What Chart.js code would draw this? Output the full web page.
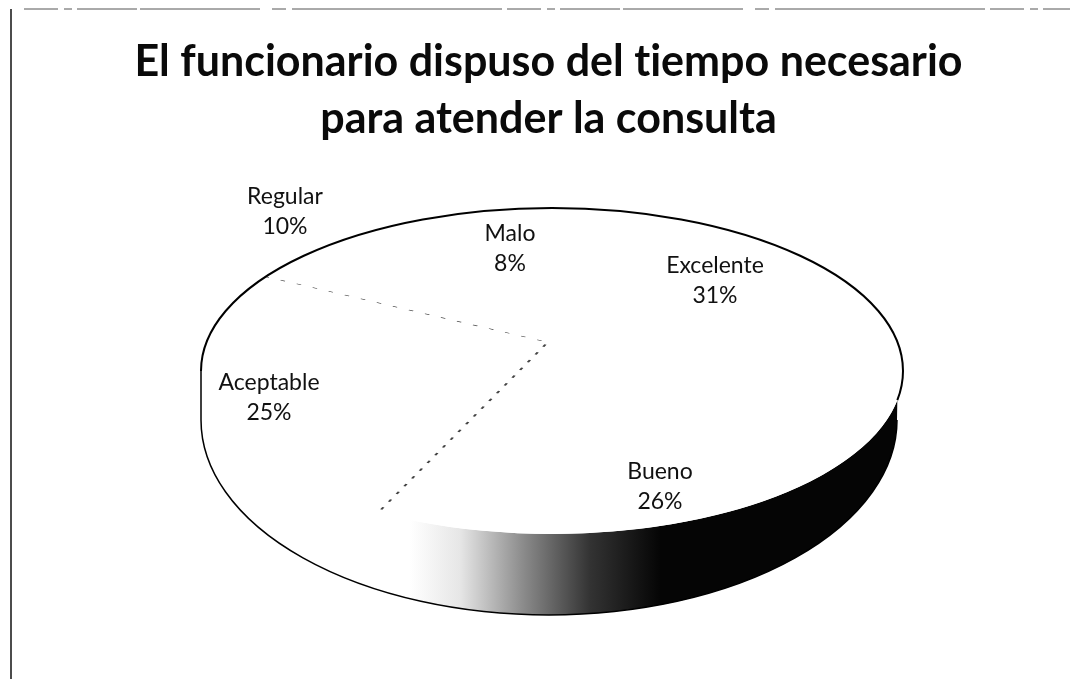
<!DOCTYPE html>
<html>
<head>
<meta charset="utf-8">
<script src="https://cdn.jsdelivr.net/npm/chart.js@4"></script>
<style>
  body { margin: 0; background: #fff; }
  canvas { display: block; }
</style>
</head>
<body>
<canvas id="myChart" width="1077" height="679"></canvas>
<script>
const titleLines = ['El funcionario dispuso del tiempo necesario', 'para atender la consulta'];
const categories = ['Excelente', 'Bueno', 'Aceptable', 'Regular', 'Malo'];
const shares = [31, 26, 25, 10, 8];

// label centres, same order as categories
const labelAnchors = [[715, 281], [660, 487], [269, 398], [285, 212], [510, 249]];

// top face and bottom rim of the disc, plus the perspective-shifted slice centre
const face = { x: 552, y: 371, rx: 351, ry: 163, end: 0.18 };
const rim = { x: 549, y: 420, rx: 348, ry: 195 };
const sliceFan = { x: 548, y: 342, rx: 420, ry: 203 };

const tiltedPie = {
    id: 'tiltedPie',
    beforeDraw(chart) {
        // scanned page edge
        const ctx = chart.ctx;
        ctx.save();
        ctx.fillStyle = '#fff';
        ctx.fillRect(0, 0, chart.width, chart.height);
        ctx.strokeStyle = '#111';
        ctx.lineWidth = 1.5;
        ctx.beginPath();
        ctx.moveTo(11, 9);
        ctx.lineTo(11, 679);
        ctx.stroke();
        ctx.strokeStyle = '#555';
        ctx.lineWidth = 1;
        ctx.setLineDash([34, 6, 8, 5, 60, 3, 120, 12, 14, 6, 210, 5]);
        ctx.beginPath();
        ctx.moveTo(24, 9);
        ctx.lineTo(1070, 9);
        ctx.stroke();
        ctx.restore();
    },
    beforeDatasetsDraw(chart) {
        const ctx = chart.ctx;
        const arc = chart.getDatasetMeta(0).data[0];

        // side wall
        const side = ctx.createLinearGradient(410, 0, 660, 0);
        side.addColorStop(0, '#ffffff');
        side.addColorStop(0.2, '#e6e6e6');
        side.addColorStop(0.45, '#8c8c8c');
        side.addColorStop(0.72, '#333333');
        side.addColorStop(1, '#050505');
        ctx.save();
        ctx.beginPath();
        ctx.ellipse(rim.x, rim.y, rim.rx, rim.ry, 0, 0, Math.PI);
        ctx.lineTo(face.x - face.rx, face.y);
        ctx.ellipse(face.x, face.y, face.rx, face.ry, 0, Math.PI, face.end, true);
        ctx.closePath();
        ctx.fillStyle = side;
        ctx.fill();
        ctx.restore();

        // squash the round pie into the top face
        ctx.save();
        ctx.beginPath();
        ctx.ellipse(face.x, face.y, face.rx, face.ry, 0, 0, 2 * Math.PI);
        ctx.clip();
        ctx.translate(sliceFan.x, sliceFan.y);
        ctx.scale(sliceFan.rx / arc.outerRadius, sliceFan.ry / arc.outerRadius);
        ctx.translate(-arc.x, -arc.y);
    },
    afterDatasetsDraw(chart) {
        const ctx = chart.ctx;
        ctx.restore();

        // outline
        ctx.save();
        ctx.strokeStyle = '#000';
        ctx.lineWidth = 2;
        ctx.beginPath();
        ctx.ellipse(face.x, face.y, face.rx, face.ry, 0, Math.PI, 2 * Math.PI + face.end);
        ctx.stroke();
        ctx.lineWidth = 1.5;
        ctx.beginPath();
        ctx.ellipse(rim.x, rim.y, rim.rx, rim.ry, 0, 0, Math.PI);
        ctx.lineTo(face.x - face.rx, face.y);
        ctx.stroke();
        ctx.restore();

        // labels
        ctx.save();
        ctx.fillStyle = '#111';
        ctx.font = '23px Lato';
        ctx.textAlign = 'center';
        ctx.textBaseline = 'middle';
        categories.forEach((name, i) => {
            const [x, y] = labelAnchors[i];
            ctx.fillText(name, x, y - 15);
            ctx.fillText(shares[i] + '%', x, y + 15);
        });
        ctx.restore();
    }
};

const canvas = document.getElementById('myChart');
canvas.style.fontVariantLigatures = 'none';
const rawCtx = canvas.getContext('2d');
rawCtx.textRendering = 'optimizeSpeed'; // stops the "ti" ligature in Lato

new Chart(canvas, {
    type: 'pie',
    data: {
        labels: categories,
        datasets: [{
            data: shares,
            backgroundColor: '#ffffff',
            borderColor: '#444444',
            borderWidth: [0, 0, 1.5, 0, 0],
            borderDash: [3, 8],
            clip: false
        }]
    },
    options: {
        responsive: false,
        animation: false,
        events: [],
        rotation: 0.5,
        layout: { padding: { left: 20, top: 33 } },
        plugins: {
            legend: { display: false },
            tooltip: { enabled: false },
            title: {
                display: true,
                text: titleLines,
                color: '#0a0a0a',
                font: { family: 'Lato', size: 43, weight: 'bold', lineHeight: 1.34 },
                padding: { top: 0, bottom: 10 }
            }
        }
    },
    plugins: [tiltedPie]
});
</script>
</body>
</html>
